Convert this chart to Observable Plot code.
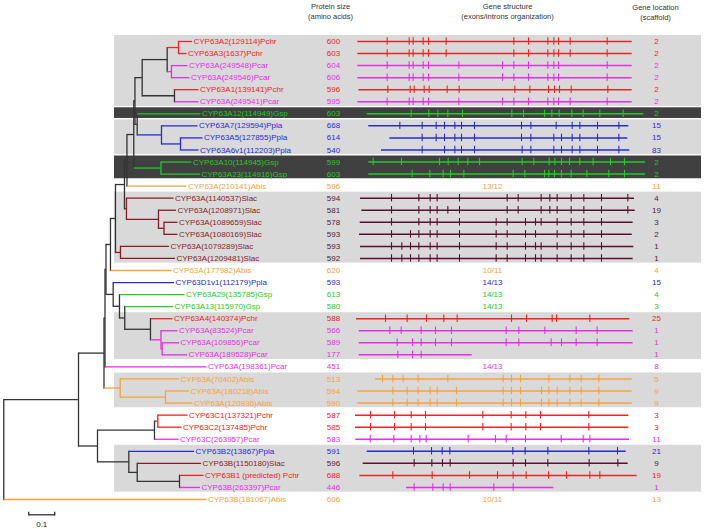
<!DOCTYPE html>
<html><head><meta charset="utf-8">
<script src="https://cdn.jsdelivr.net/npm/d3@7"></script>
<script src="https://cdn.jsdelivr.net/npm/@observablehq/plot@0.6"></script>
<style>
body{margin:0;background:#fff;}
#chart{position:relative;width:706px;height:529px;}
#chart svg{position:absolute;left:0;top:0;}
</style></head><body><div id="chart"></div>
<script>
// ---------- data ----------
const names = [
  "CYP63A2(129114)Pchr","CYP63A3(1637)Pchr","CYP63A(249548)Pcar","CYP63A(249546)Pcar",
  "CYP63A1(139141)Pchr","CYP63A(249541)Pcar","CYP63A12(114949)Gsp","CYP63A7(129594)Ppla",
  "CYP63A5(127855)Ppla","CYP63A6v1(112203)Ppla","CYP63A10(114945)Gsp","CYP63A23(114916)Gsp",
  "CYP63A(210141)Abis","CYP63A(1140537)Slac","CYP63A(1208971)Slac","CYP63A(1089659)Slac",
  "CYP63A(1080169)Slac","CYP63A(1079289)Slac","CYP63A(1209481)Slac","CYP63A(177982)Abis",
  "CYP63D1v1(112179)Ppla","CYP63A29(135785)Gsp","CYP63A13(115970)Gsp","CYP63A4(140374)Pchr",
  "CYP63A(83524)Pcar","CYP63A(109856)Pcar","CYP63A(189528)Pcar","CYP63A(198361)Pcar",
  "CYP63A(70402)Abis","CYP63A(180218)Abis","CYP63A(120936)Abis","CYP63C1(137321)Pchr",
  "CYP63C2(137485)Pchr","CYP63C(263957)Pcar","CYP63B2(13867)Ppla","CYP63B(1150180)Slac",
  "CYP63B1 (predicted) Pchr","CYP63B(263397)Pcar","CYP63B(181067)Abis"
];
const proteinSize = [600,603,604,606,596,595,603,668,614,540,599,603,596,594,581,578,593,593,592,620,
  593,613,580,588,566,589,177,451,513,594,590,587,585,583,591,596,688,446,606];
const scaffold = [2,2,2,2,2,2,2,15,15,83,2,2,11,4,19,3,2,1,1,4,15,4,3,25,1,1,1,8,5,9,9,3,3,11,21,9,19,1,13];
// exon/intron counts given as text where no structure is drawn (row number -> text)
const exonIntronRows = [13,20,21,22,23,28,39];
const exonIntronText = ["13/12","10/11","14/13","14/13","14/13","14/13","10/11"];

// gene structure, alignment coordinate (0..900)
const geneStart = [22,22,22,22,25,22,50,55,118,93,55,55,null,30,34,29,27,30,30,null,null,null,null,
  18,26,26,26,null,75,22,22,15,15,16,50,38,28,168,null];
const geneEnd = [845,845,845,845,845,845,880,835,832,838,885,885,null,852,854,848,845,850,848,null,null,null,null,
  838,848,848,365,null,845,845,845,835,835,837,827,833,860,610,null];
const geneIntrons = [
  [110,176,188,218,234,287,490,534,592,610,624,659,770],
  [110,176,188,218,234,287,490,534,592,610,624,659,770],
  [110,176,188,218,234,325,456,490,534,592,610,624,770],
  [110,176,188,218,234,325,456,490,534,592,610,624,770],
  [112,179,191,221,236,290,326,493,538,594,612,627,662,772],
  [110,176,188,218,234,325,456,490,534,592,610,624,659,770],
  [182,235,262,292,336,484,519,582,604,626,664,698,748,818],
  [148,215,257,282,313,333,372,513,541,617,665,688,741,805],
  [215,257,282,313,333,372,513,541,610,633,665,688,741,805],
  [215,282,313,333,372,515,541,610,633,665,688,741,805],
  [68,153,267,293,323,352,387,515,550,596,613,633,657,688,728,780,822],
  [185,238,278,300,340,488,523,582,595,612,633,662,709,775,822],
  [],
  [123,205,239,260,327,470,503,572,598,620,662,700,753,832],
  [123,205,239,260,292,327,470,503,572,598,620,662,700,753,832],
  [123,205,239,260,327,437,470,525,555,572,620,662,700,753],
  [123,180,205,239,260,327,437,470,525,555,620,662,700,753],
  [123,154,180,205,239,260,327,437,470,525,555,572,620,662,700,753],
  [123,154,180,205,239,260,327,437,470,525,555,572,620,662,700,753],
  [],[],[],[],
  [105,170,228,280,320,483,528,605,618,718],
  [118,152,212,255,303,467,505,583,677,740],
  [140,186,212,255,303,467,505,602,633,677,740],
  [142,186,212],
  [],
  [96,127,158,203,292,458,483,510,595,658,692,745],
  [127,170,203,239,260,318,458,483,510,573,595,620,658,692,745],
  [127,170,203,239,260,318,458,483,510,573,595,620,658,692,745],
  [60,132,182,225,397,482,526,570,715],
  [60,132,182,225,397,482,526,570,715],
  [59,130,182,208,227,353,435,467,525,632,698,718],
  [189,243,275,298,487,524,592,715,801],
  [191,244,276,299,488,525,592,716,802],
  [127,245,357,441,488,527,594,648,718,748],
  [191,247,278,299,430,488],
  []
];

// phylogeny (leaf names = row numbers), branch lengths in substitutions/site
const treeNewick =
 "((((((((((((((1:0.0519,2:0.0308):0.0435,(3:0.0615,4:0.0692):0.0165):0.0962,(5:0.0923,6:0.0923):0.1242):0.0277," +
 "(7:0.2435,(8:0.1385,(9:0.0846,10:0.0692):0.0731):0.0935):0.0085):0.0046,(11:0.1173,12:0.15):0.1046):0.0262," +
 "13:0.2288):0.0096,(14:0.1808,(15:0.0673,(16:0.0519,17:0.0519):0.0212):0.1231):0.0077):0.0346," +
 "(18:0.1865,19:0.2096):0.0192):0.0192,20:0.2346):0.0173," +
 "(21:0.2338,(22:0.25,(23:0.1854,(24:0.0846,(25:0.0635,(26:0.0646,27:0.0954):0.0046):0.0404):0.0988):0.0204):0.0242):0.0277):0.0038," +
 "28:0.3904):0.0038,(29:0.2262,(30:0.0904,31:0.1038):0.1742):0.0623):0.0981," +
 "(((32:0.1142,33:0.0912):0.0127,34:0.0923):0.2192,(35:0.2508,(36:0.2454,(37:0.0923,38:0.0788):0.1627):0.0323):0.1204):0.0731):0.2873," +
 "39:0.7796);";

// highlighted clades (row numbers)
const boxFirst = [1,7,8,11,14,24,29,35];
const boxLast  = [6,7,10,12,19,27,31,38];
const boxShade = ["light","dark","light","dark","light","light","light","light"];

const scaleBar = {start: 0.096, length: 0.1, row: 39.27};

// ---------- styling ----------
const speciesColor = {Pchr:"#ec2424", Pcar:"#e62ee6", Gsp:"#22cc22", Ppla:"#2a2ad0", Slac:"#8a1a26", Abis:"#f5a23c"};
const numberColor = {...speciesColor, Slac:"#4e1a36"};
const geneColor = {...speciesColor, Slac:"#5a0f2e"};
const shadeColor = {light:"#d9d9d9", dark:"#404040"};
const species = names.map(n => n.match(/(Pchr|Pcar|Gsp|Ppla|Slac|Abis)$/)[1]);
const font = "'Liberation Sans', Arial, sans-serif";

// ---------- tree layout ----------
function parseNewick(s) {
  let i = 0;
  function node() {
    const n = {children: []};
    if (s[i] === "(") { i++; do { n.children.push(node()); } while (s[i] === "," && ++i); i++; }
    let name = ""; while (i < s.length && !",():;".includes(s[i])) name += s[i++];
    n.name = name;
    if (s[i] === ":") { i++; let l = ""; while (i < s.length && !",();".includes(s[i])) l += s[i++]; n.length = +l; }
    return n;
  }
  return node();
}
const root = parseNewick(treeNewick);
const hSegs = [], vSegs = [], leaves = [];
(function layout(n, px) {
  n.x = px + (n.length || 0);
  if (!n.children.length) {
    n.row = +n.name - 1; n.y = n.row; n.sp = species[n.row]; leaves.push(n);
  } else {
    n.children.forEach(c => layout(c, n.x));
    n.y = (n.children[0].y + n.children[n.children.length - 1].y) / 2;
    const sps = new Set(n.children.map(c => c.sp));
    n.sp = sps.size === 1 ? [...sps][0] : null;
  }
  n.color = n.sp ? speciesColor[n.sp] : "#333333";
  if (n.children.length) vSegs.push({x: n.x, y1: n.children[0].y, y2: n.children[n.children.length-1].y, c: n.color});
  if (n !== undefined && px !== null) hSegs.push({x1: px, x2: n.x, y: n.y, c: n.color});
})(root, null);
// root has no incoming branch
const hSegsDraw = hSegs.filter(d => d.x1 !== null);

const rows = d3.range(names.length);
const yScale = {domain: [0, names.length - 1], range: [41, 499], axis: null};
const base = {width: 706, height: 529, marginTop: 0, marginBottom: 0,
  style: {background: "transparent", fontFamily: font, overflow: "visible"}};
const holder = document.getElementById("chart");

// background boxes
const boxes = boxFirst.map((f, i) => ({y1: f - 1 - 0.5, y2: boxLast[i] - 1 + 0.47, fill: shadeColor[boxShade[i]]}));
holder.append(Plot.plot({...base, marginLeft: 114, marginRight: 5, y: yScale, color: {type: "identity"},
  marks: [Plot.rect(boxes, {y1: "y1", y2: "y2", fill: "fill", insetBottom: 1})]}));

// tree
holder.append(Plot.plot({...base, marginLeft: 0, marginRight: 0,
  x: {domain: [0, 1], range: [3.3, 263.3], axis: null}, y: yScale, color: {type: "identity"},
  marks: [
    Plot.link(vSegs, {x1: "x", x2: "x", y1: "y1", y2: "y2", stroke: "c", strokeWidth: 1.3, strokeLinecap: "square"}),
    Plot.link(hSegsDraw, {x1: "x1", x2: "x2", y1: "y", y2: "y", stroke: "c", strokeWidth: 1.3}),
    Plot.text(leaves, {x: "x", y: "y", text: d => names[d.row], textAnchor: "start", dx: 1.5,
      fill: d => speciesColor[d.sp], fontSize: 8}),
    Plot.link([scaleBar], {x1: d => d.start, x2: d => d.start + d.length, y1: "row", y2: "row", stroke: "#222", strokeWidth: 1.2}),
    Plot.link([scaleBar.start, scaleBar.start + scaleBar.length], {x1: d => d, x2: d => d,
      y1: () => scaleBar.row - 0.25, y2: () => scaleBar.row + 0.05, stroke: "#222", strokeWidth: 1.2}),
    Plot.text([scaleBar], {x: d => d.start + d.length / 2, y: d => d.row + 0.78, text: d => String(d.length), fontSize: 8, fill: "#222"})
  ]}));

// protein size column
holder.append(Plot.plot({...base, marginLeft: 313, marginRight: 353, y: yScale, color: {type: "identity"},
  marks: [
    Plot.text(rows, {y: d => d, text: d => String(proteinSize[d]), frameAnchor: "middle",
      fill: d => numberColor[species[d]], fontSize: 8}),
    Plot.text(["Protein size\n(amino acids)"], {frameAnchor: "top", lineAnchor: "top", dy: 2, dx: -3,
      lineHeight: 1.3, fontSize: 7.5, fill: "#333"})
  ]}));

// gene structure column
const geneRows = rows.filter(r => geneStart[r] !== null);
const introns = geneRows.flatMap(r => geneIntrons[r].map(p => ({row: r, pos: p})));
holder.append(Plot.plot({...base, marginLeft: 350, marginRight: 56,
  x: {domain: [0, 900], axis: null}, y: yScale, color: {type: "identity"},
  marks: [
    Plot.ruleY(geneRows, {y: d => d, x1: d => geneStart[d], x2: d => geneEnd[d],
      stroke: d => geneColor[species[d]], strokeWidth: 1.5}),
    Plot.ruleX(introns, {x: "pos", y1: d => d.row - 0.31, y2: d => d.row + 0.31,
      stroke: d => geneColor[species[d.row]], strokeWidth: 1.1}),
    Plot.text(exonIntronRows, {y: d => d - 1, text: (d, i) => exonIntronText[i], frameAnchor: "middle", dx: -8,
      fill: d => speciesColor[species[d - 1]], fontSize: 8}),
    Plot.text(["Gene structure\n(exons/introns organization)"], {frameAnchor: "top", lineAnchor: "top", dy: 2, dx: 7,
      lineHeight: 1.3, fontSize: 7.5, fill: "#333"})
  ]}));

// gene location column
holder.append(Plot.plot({...base, marginLeft: 640, marginRight: 34, y: yScale, color: {type: "identity"},
  marks: [
    Plot.text(rows, {y: d => d, text: d => String(scaffold[d]), frameAnchor: "middle",
      fill: d => numberColor[species[d]], fontSize: 8}),
    Plot.text(["Gene location\n(scaffold)"], {frameAnchor: "top", lineAnchor: "top", dy: 3, dx: -1,
      lineHeight: 1.3, fontSize: 7.5, fill: "#333"})
  ]}));
</script></body></html>
